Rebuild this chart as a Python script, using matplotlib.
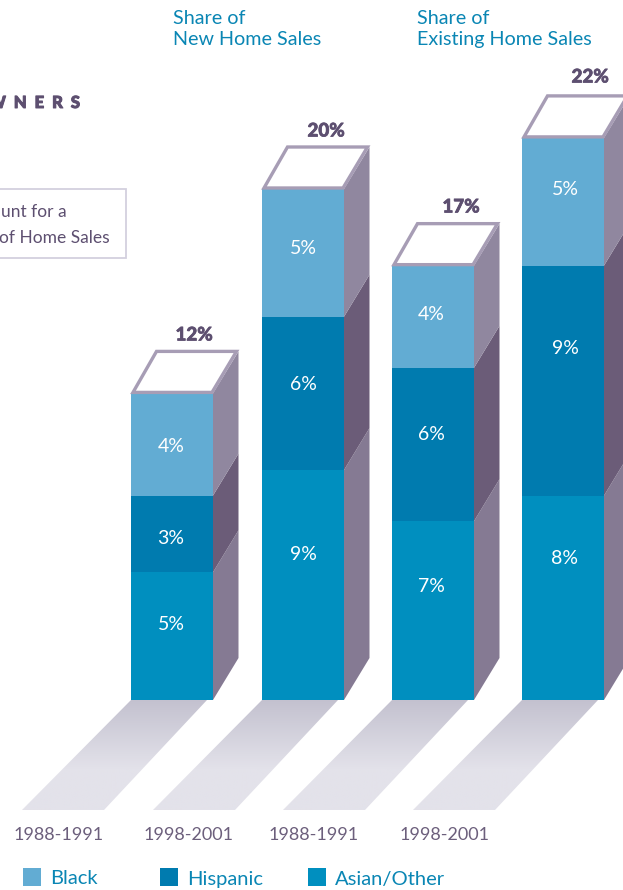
import matplotlib
matplotlib.use("Agg")
import matplotlib.pyplot as plt
import matplotlib.patheffects as pe
import numpy as np
from matplotlib.patches import Polygon, Rectangle

plt.rcParams['font.family'] = ['Lato', 'DejaVu Sans']

periods = ["1988-1991", "1998-2001", "1988-1991", "1998-2001"]
asian = [5, 9, 7, 8]
hispanic = [3, 6, 6, 9]
black = [4, 5, 4, 5]
totals = ["12%", "20%", "17%", "22%"]
bar_left = [131, 262, 392, 522]

groups = ["Share of\nNew Home Sales", "Share of\nExisting Home Sales"]
group_x = [173, 417]
legend_names = ["Black", "Hispanic", "Asian/Other"]
legend_x = [23, 160, 308]

# pixel rows of the percent labels inside the segments
asian_rows = [625, 554, 587, 559]
hispanic_rows = [539, 385, 434, 349]
black_rows = [447, 248, 315, 190]
label_x = [171, 303, 431, 565]
total_x = [194, 326, 461, 590]
total_rows = [335, 131, 207, 77]
period_x = [59, 189, 314, 445]

c_black, c_hisp, c_asian = "#62acd3", "#007baf", "#008fbf"
side_black, side_hisp, side_asian = "#90879f", "#6b5c78", "#857a93"
blue_text = "#0a86b4"
purple = "#5d4f70"

W, H = 623, 890
PX = 25.55        # pixels per percentage point
BASE = 700        # pixel row of the zero line
bar_w = 82
dx, dy = 25.5, 42 / PX


def row(p):
    return (BASE - p) / PX


fig = plt.figure(figsize=(W / 100, H / 100), dpi=100)
ax = fig.add_axes([0, 0, 1, 1])
ax.axis("off")

# floor shadows with a vertical fade
fade = np.concatenate([np.linspace(0, 1, 70), np.ones(40)])[:, None]
shadow_cmap = matplotlib.colors.LinearSegmentedColormap.from_list("fade", ["#c3c1cf", "#e3e2ea"])
for x in bar_left:
    shadow = Polygon([(x, 0), (x + 76, 0), (x - 27, row(810)), (x - 109, row(810))],
                     closed=True, fc="none", ec="none")
    ax.add_patch(shadow)
    im = ax.imshow(fade, cmap=shadow_cmap, aspect="auto", origin="upper",
                   extent=[x - 110, x + 77, row(810), 0], vmin=0, vmax=1, zorder=1)
    im.set_clip_path(shadow)
ax.set_xlim(0, W)
ax.set_ylim(row(H), row(0))

a = np.array(asian, float)
h = np.array(hispanic, float)
b = np.array(black, float)

for vals, bottom, col, side, rows in [(a, 0 * a, c_asian, side_asian, asian_rows),
                                      (h, a, c_hisp, side_hisp, hispanic_rows),
                                      (b, a + h, c_black, side_black, black_rows)]:
    ax.bar(bar_left, vals, bottom=bottom, width=bar_w, align="edge", color=col, zorder=3)
    for x, v, y0, lx, ly in zip(bar_left, vals, bottom, label_x, rows):
        r = x + bar_w
        ax.add_patch(Polygon([(r, y0), (r + dx, y0 + dy), (r + dx, y0 + v + dy), (r, y0 + v)],
                             closed=True, fc=side, ec="none", zorder=2))
        ax.text(lx, row(ly), "%d%%" % v, color="white", fontsize=14,
                ha="center", va="center", zorder=4)

# open lid on every bar and the total above it
for x, top, label, tx, ty in zip(bar_left, a + h + b, totals, total_x, total_rows):
    ax.add_patch(Polygon([(x + 2, top + 1 / PX), (x + bar_w - 1, top + 1 / PX),
                          (x + bar_w + dx - 2, top + dy), (x + dx, top + dy)],
                         closed=True, fc="white", ec="#a79db5", lw=2.4, zorder=5,
                         joinstyle="miter"))
    t = ax.text(tx, row(ty), label, color=purple, fontsize=13.5,
                fontweight="black", ha="center", va="center", zorder=6)
    t.set_path_effects([pe.withStroke(linewidth=0.5, foreground=purple)])

for cx, label in zip(period_x, periods):
    ax.text(cx, row(835), label, color="#6c5f7c", fontsize=13, ha="center", va="center")

for x, label in zip(group_x, groups):
    ax.text(x, row(10), label, color=blue_text, fontsize=14.2, ha="left", va="top",
            linespacing=1.32)

# legend row
for x, label, col in zip(legend_x, legend_names, [c_black, c_hisp, c_asian]):
    ax.add_patch(Rectangle((x, row(886)), 18, 18 / PX, fc=col, ec="none"))
    ax.text(x + 27, row(879), label, color=blue_text, fontsize=14.5, ha="left", va="center")

# callout box and heading running in from the left page
ax.add_patch(Rectangle((-20, row(258)), 146, 69 / PX, fc="white", ec="#d3d0de", lw=1.3))
ax.text(67, row(212), "unt for a", color=purple, fontsize=12.5, ha="right", va="center")
ax.text(110, row(238), "of Home Sales", color=purple, fontsize=12.5, ha="right", va="center")
t = ax.text(80, row(103), "W  N  E  R  S", color=purple, fontsize=12, fontweight="black",
            ha="right", va="center")
t.set_path_effects([pe.withStroke(linewidth=0.7, foreground=purple)])

fig.savefig("out.png", dpi=100)
